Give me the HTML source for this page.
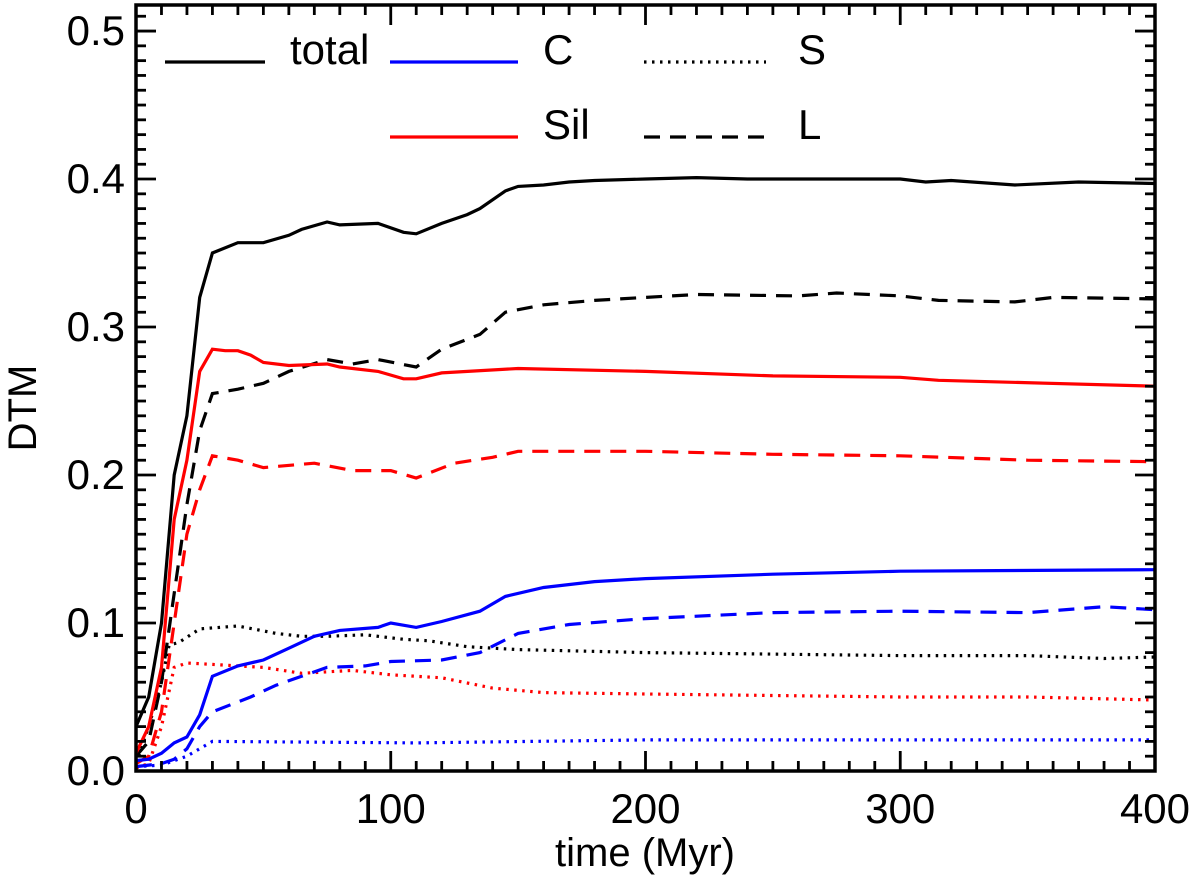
<!DOCTYPE html>
<html><head><meta charset="utf-8"><style>
body{margin:0;background:#fff}
svg text{font-family:"Liberation Sans",sans-serif;fill:#000}
</style></head><body>
<svg id="chart" width="1200" height="882" xmlns="http://www.w3.org/2000/svg">
<g id="plot"></g>
</svg>
<script>
const xTicks=[0,100,200,300,400];
const yTicks=[0.0,0.1,0.2,0.3,0.4,0.5];
const totT=[0,5,10,15,20,25,30,40,50,60,65,75,80,95,105,110,120,130,135,145,150,160,170,180,200,220,240,260,280,300,310,320,345,370,400];
const totV=[0.03,0.05,0.1,0.2,0.24,0.32,0.35,0.357,0.357,0.362,0.366,0.371,0.369,0.37,0.364,0.363,0.37,0.376,0.38,0.392,0.395,0.396,0.398,0.399,0.4,0.401,0.4,0.4,0.4,0.4,0.398,0.399,0.396,0.398,0.397];
const totLT=[0,5,10,15,20,25,30,40,50,60,75,85,95,110,120,135,145,160,180,200,220,260,275,300,315,345,360,400];
const totLV=[0.01,0.02,0.06,0.12,0.18,0.23,0.255,0.258,0.262,0.27,0.278,0.275,0.278,0.273,0.285,0.295,0.31,0.315,0.318,0.32,0.322,0.321,0.323,0.321,0.318,0.317,0.32,0.319];
const totST=[0,5,10,13,17,25,40,55,65,75,90,105,115,130,150,200,250,300,350,380,400];
const totSV=[0.005,0.03,0.06,0.085,0.087,0.096,0.098,0.093,0.091,0.091,0.092,0.089,0.088,0.084,0.082,0.08,0.079,0.078,0.078,0.076,0.077];
const silT=[0,5,10,15,20,25,30,35,40,45,50,60,75,80,95,105,110,120,150,200,250,300,315,400];
const silV=[0.012,0.03,0.07,0.17,0.21,0.27,0.285,0.284,0.284,0.281,0.276,0.274,0.275,0.273,0.27,0.265,0.265,0.269,0.272,0.27,0.267,0.266,0.264,0.26];
const silLT=[0,5,10,15,20,25,30,40,50,70,85,100,110,125,140,150,200,250,300,350,400];
const silLV=[0.005,0.01,0.04,0.1,0.16,0.19,0.213,0.21,0.205,0.208,0.203,0.203,0.198,0.208,0.212,0.216,0.216,0.214,0.213,0.21,0.209];
const silST=[0,5,10,15,20,30,50,65,85,100,120,140,160,200,300,350,400];
const silSV=[0.002,0.005,0.03,0.07,0.073,0.072,0.07,0.066,0.068,0.065,0.063,0.056,0.053,0.052,0.05,0.05,0.048];
const cT=[0,5,10,15,20,25,30,40,50,60,70,80,95,100,110,120,135,145,160,180,200,250,300,400];
const cV=[0.007,0.008,0.012,0.019,0.023,0.038,0.064,0.071,0.075,0.083,0.091,0.095,0.097,0.1,0.097,0.101,0.108,0.118,0.124,0.128,0.13,0.133,0.135,0.136];
const cLT=[0,10,15,20,25,30,45,55,65,75,90,100,120,135,150,170,200,250,300,350,380,400];
const cLV=[0.003,0.005,0.008,0.015,0.03,0.04,0.05,0.058,0.064,0.07,0.071,0.074,0.075,0.08,0.093,0.099,0.103,0.107,0.108,0.107,0.111,0.109];
const cST=[0,10,20,30,110,200,400];
const cSV=[0.003,0.004,0.01,0.02,0.019,0.021,0.021];

const X0=136,X1=1155,Y0=771,Y1=5,XMAX=400,YMAX=0.5176;
const sx=t=>X0+(X1-X0)*t/XMAX, sy=v=>Y0-(Y0-Y1)*v/YMAX;
const NS='http://www.w3.org/2000/svg';
const svg=document.getElementById('chart');
function mk(tag,attrs,parent){const e=document.createElementNS(NS,tag);for(const k in attrs)e.setAttribute(k,attrs[k]);(parent||svg).appendChild(e);return e;}
const plot=document.getElementById('plot');
const DASH='16,10', DOT='2.5,5.5';
const series=[
 ['total-line',totT,totV,'#000',''],['total-L-line',totLT,totLV,'#000',DASH],['total-S-line',totST,totSV,'#000',DOT],
 ['sil-line',silT,silV,'#f00',''],['sil-L-line',silLT,silLV,'#f00',DASH],['sil-S-line',silST,silSV,'#f00',DOT],
 ['c-line',cT,cV,'#00f',''],['c-L-line',cLT,cLV,'#00f',DASH],['c-S-line',cST,cSV,'#00f',DOT]];
for(const s of series){
 const d=s[1].map((t,i)=>(i?'L':'M')+sx(t).toFixed(1)+','+sy(s[2][i]).toFixed(1)).join('');
 const p=mk('path',{d:d,fill:'none',stroke:s[3],'stroke-width':3.2,'stroke-dasharray':s[4]},plot);
 
 
}
const fr=mk('rect',{x:X0,y:Y1,width:X1-X0,height:Y0-Y1,fill:'none',stroke:'#000','stroke-width':3.5});


for(let t=0;t<=XMAX;t+=10){const maj=t%100===0,L=maj?20:10;
 mk('line',{x1:sx(t),x2:sx(t),y1:Y0,y2:Y0-L,stroke:'#000','stroke-width':2.8});
 mk('line',{x1:sx(t),x2:sx(t),y1:Y1,y2:Y1+L,stroke:'#000','stroke-width':2.8});}
for(let i=0;i<=51;i++){const v=i/100,maj=i%10===0,L=maj?20:10;
 mk('line',{y1:sy(v),y2:sy(v),x1:X0,x2:X0+L,stroke:'#000','stroke-width':2.8});
 mk('line',{y1:sy(v),y2:sy(v),x1:X1,x2:X1-L,stroke:'#000','stroke-width':2.8});}
for(const t of xTicks){const e=mk('text',{x:sx(t),y:823,'font-size':42,'text-anchor':'middle'});e.textContent=t;
 
 }
for(const v of yTicks){const e=mk('text',{x:125,y:sy(v)+14,'font-size':42,'text-anchor':'end'});e.textContent=v.toFixed(1);
 
 }
const xl=mk('text',{x:645,y:866,'font-size':40,'text-anchor':'middle'});xl.textContent='time (Myr)';


const yl=mk('text',{x:0,y:0,'font-size':40,'text-anchor':'middle',transform:'translate(36,408) rotate(-90)'});yl.textContent='DTM';


const leg=[['total',165,265,62,290,'#000',''],['C',390,518,62,543,'#00f',''],['S',644,766,62,798,'#000',DOT],['Sil',390,518,137,543,'#f00',''],['L',644,766,137,798,'#000','16,10']];
for(const l of leg){
 const g=mk('g',{});
 
 
 mk('line',{x1:l[1],x2:l[2],y1:l[3],y2:l[3],stroke:l[5],'stroke-width':3.2,'stroke-dasharray':l[6]},g);
 const tx=mk('text',{x:l[4],y:l[3]+2,'font-size':42},g);tx.textContent=l[0];
}
</script>
</body></html>
